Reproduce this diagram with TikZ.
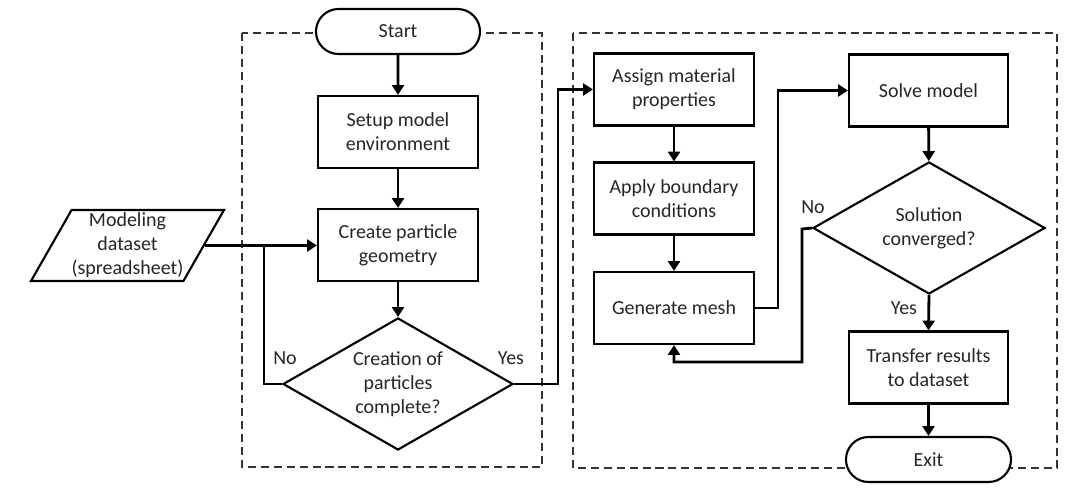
\documentclass[tikz,border=0pt]{standalone}
\usepackage{fontspec}
\setmainfont{Carlito}
\usetikzlibrary{shapes.geometric,shapes.misc,arrows.meta}
\begin{document}
\begin{tikzpicture}[x=0.025cm,y=-0.025cm,
  every node/.style={font=\fontsize{14.2}{17}\selectfont, align=center, text=black!85},
  procbox/.style={draw, line width=1.5pt, fill=white, minimum width=4cm, minimum height=1.8cm, inner sep=0pt},
  termbox/.style={draw, line width=1.5pt, fill=white, rounded rectangle, minimum width=4.1cm, minimum height=1.125cm, inner sep=0pt},
  decbox/.style={draw, line width=1.5pt, fill=white, diamond, aspect=1.73, minimum width=5.75cm, minimum height=3.3cm, inner sep=0pt},
  iobox/.style={draw, line width=1.5pt, fill=white, trapezium, trapezium left angle=58, trapezium right angle=122, trapezium stretches=true, minimum width=4.35cm, minimum height=1.775cm, inner sep=0pt},
  group/.style={draw, line width=1.4pt, black!80, dash pattern=on 5.7pt off 3.5pt},
  flow/.style={line width=2pt, -{Triangle[length=7pt,width=8.5pt]}},
  flowline/.style={line width=2pt},
  lbl/.style={inner sep=0pt}
]
\useasboundingbox (0,0) rectangle (1080,503);
% groups
\draw[group] (242,33) rectangle (542,467);
\draw[group] (573,33) rectangle (1057,468);

% nodes left
\node[termbox] (start) at (398,31.5) {Start};
\node[procbox] (setup) at (398,132) {Setup model\\environment};
\node[procbox] (create) at (398,245) {Create particle\\geometry};
\node[decbox] (dec1) at (398,384) {Creation of\\particles\\complete?};
\node[iobox] (data) at (127.5,245.5) {Modeling\\dataset\\(spreadsheet)};

% nodes right
\node[procbox] (assign) at (674,89.5) {Assign material\\properties};
\node[procbox] (apply) at (674,198.5) {Apply boundary\\conditions};
\node[procbox] (mesh) at (674,308) {Generate mesh};
\node[procbox, minimum width=3.975cm] (solve) at (928.5,90.5) {Solve model};
\node[decbox, minimum width=5.8cm] (dec2) at (929,228) {Solution\\converged?};
\node[procbox, minimum width=3.975cm] (transfer) at (928.5,367.5) {Transfer results\\to dataset};
\node[termbox, minimum width=4.125cm] (exit) at (928.5,459.5) {Exit};

% coordinates
\coordinate (loop1) at (264,245);
\coordinate (yes1) at (558,384);
\coordinate (m1) at (778,308);
\coordinate (no2a) at (802,229);
\coordinate (no2b) at (802,362);
\coordinate (no2c) at (674,362);

% connectors
\draw[flow] (start) -- (setup);
\draw[flow] (setup) -- (create);
\draw[flow] (create) -- (dec1);
\draw[flow] (data.east) -- (data.east -| create.west);
\draw[flowline] (dec1.west) -| (loop1);
\draw[flow] (dec1.east) -- (yes1) |- (assign.west);
\draw[flow] (assign) -- (apply);
\draw[flow] (apply) -- (mesh);
\draw[flow] (mesh.east) -- (m1) |- (solve.west);
\draw[flow] (solve) -- (dec2);
\draw[flow] (dec2.south) -- (transfer.north);
\draw[flow] (transfer) -- (exit);
\draw[flow] (dec2.west) -- (no2a) -- (no2b) -- (no2c) -- (mesh.south);

% labels
\node[lbl] (lno1) at (285,358) {No};
\node[lbl] (lyes1) at (511,358) {Yes};
\node[lbl] (lno2) at (813,207) {No};
\node[lbl] (lyes2) at (904,308) {Yes};
\end{tikzpicture}
\end{document}
